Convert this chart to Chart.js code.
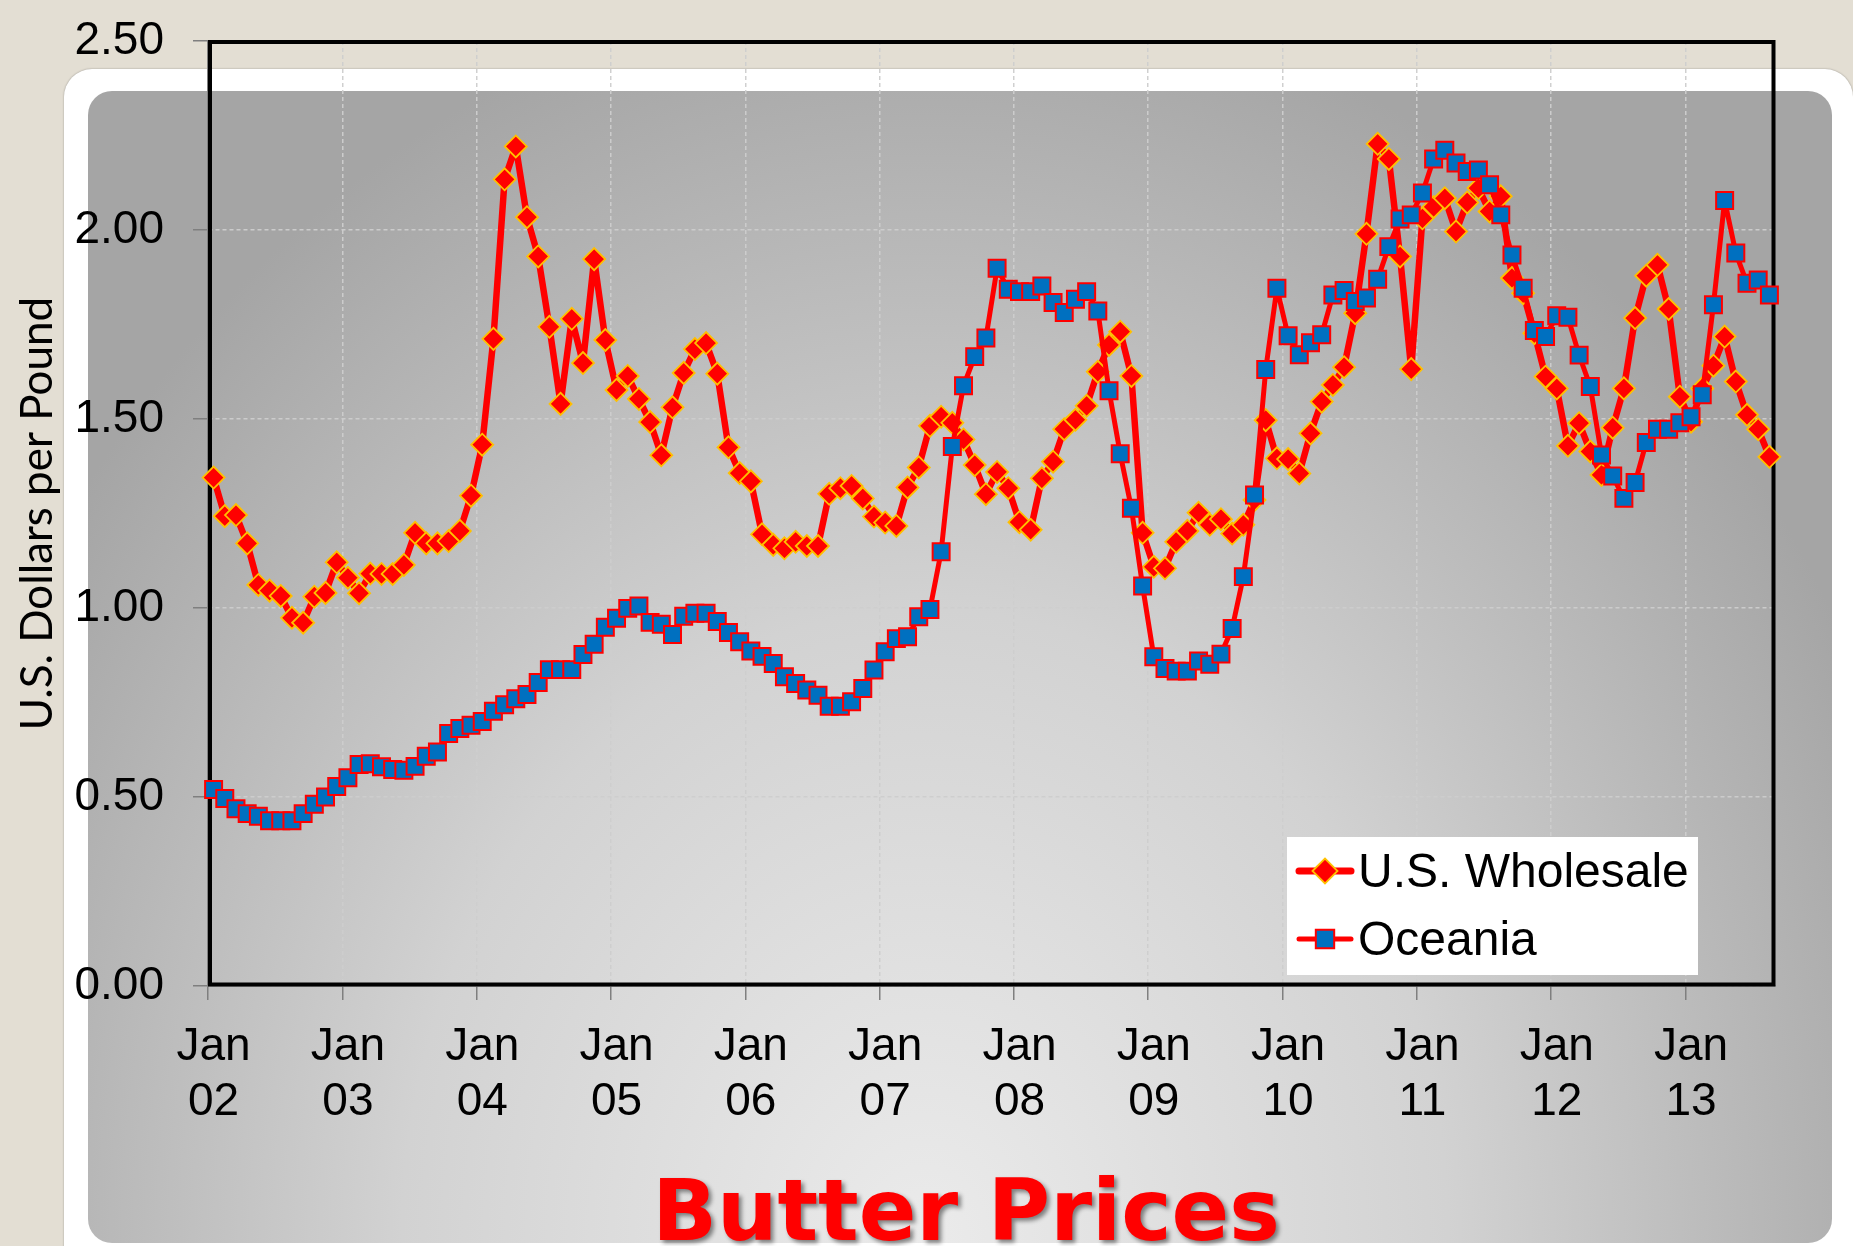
<!DOCTYPE html>
<html>
<head>
<meta charset="utf-8">
<title>Butter Prices</title>
<script src="https://cdn.jsdelivr.net/npm/chart.js@4.4.1/dist/chart.umd.min.js"></script>
<style>
  html, body { margin: 0; padding: 0; }
  body { width: 1853px; height: 1246px; overflow: hidden; background: #e3ded3; position: relative; }
  #card { position: absolute; left: 64px; top: 69px; width: 1789px; height: 1240px; background: #fff;
          border-radius: 28px 28px 0 0; box-shadow: 0 0 2px rgba(0,0,0,0.35); }
  #panel { position: absolute; left: 88px; top: 91px; width: 1744px; height: 1152px; border-radius: 24px;
           background: radial-gradient(ellipse 60% 110% at 48% 100%, #ebebeb 0%, #d2d2d2 50%, #a5a5a5 100%); }
  #chart { position: absolute; left: 0; top: 0; }
</style>
</head>
<body>
<div id="card"></div>
<div id="panel"></div>
<canvas id="chart" width="1853" height="1246"></canvas>
<script>
// Monthly butter prices, Jan 2002 - Aug 2013, US$ per pound
const years = ['02', '03', '04', '05', '06', '07', '08', '09', '10', '11', '12', '13'];
const monthNames = ['Jan', 'Feb', 'Mar', 'Apr', 'May', 'Jun', 'Jul', 'Aug', 'Sep', 'Oct', 'Nov', 'Dec'];

const usWholesale = [
  1.345, 1.243, 1.246, 1.171, 1.061, 1.046, 1.032, 0.974, 0.961, 1.030, 1.040, 1.121,
  1.080, 1.039, 1.091, 1.090, 1.090, 1.114, 1.199, 1.171, 1.171, 1.177, 1.204, 1.297,
  1.432, 1.712, 2.134, 2.221, 2.034, 1.930, 1.744, 1.540, 1.765, 1.648, 1.923, 1.709,
  1.577, 1.614, 1.553, 1.492, 1.404, 1.531, 1.622, 1.685, 1.701, 1.620, 1.425, 1.357,
  1.335, 1.195, 1.167, 1.158, 1.175, 1.164, 1.164, 1.302, 1.317, 1.323, 1.290, 1.242,
  1.226, 1.217, 1.319, 1.372, 1.482, 1.506, 1.490, 1.446, 1.378, 1.301, 1.360, 1.317,
  1.227, 1.207, 1.343, 1.387, 1.473, 1.498, 1.535, 1.625, 1.696, 1.731, 1.614, 1.199,
  1.109, 1.105, 1.175, 1.204, 1.252, 1.220, 1.235, 1.197, 1.220, 1.286, 1.497, 1.396,
  1.394, 1.356, 1.462, 1.546, 1.590, 1.637, 1.780, 1.990, 2.228, 2.188, 1.930, 1.632,
  2.031, 2.061, 2.084, 1.996, 2.073, 2.111, 2.049, 2.089, 1.873, 1.833, 1.727, 1.612,
  1.581, 1.429, 1.489, 1.414, 1.352, 1.477, 1.581, 1.767, 1.879, 1.908, 1.791, 1.559,
  1.493, 1.581, 1.641, 1.718, 1.599, 1.511, 1.473, 1.400
];

const oceania = [
  0.520, 0.496, 0.469, 0.456, 0.449, 0.437, 0.437, 0.437, 0.456, 0.481, 0.500, 0.528,
  0.551, 0.586, 0.588, 0.580, 0.573, 0.571, 0.581, 0.608, 0.619, 0.668, 0.681, 0.690,
  0.700, 0.727, 0.744, 0.760, 0.771, 0.803, 0.837, 0.837, 0.837, 0.877, 0.904, 0.949,
  0.973, 0.999, 1.005, 0.962, 0.957, 0.930, 0.978, 0.986, 0.986, 0.964, 0.935, 0.911,
  0.886, 0.872, 0.853, 0.818, 0.800, 0.783, 0.769, 0.740, 0.740, 0.752, 0.787, 0.836,
  0.884, 0.919, 0.924, 0.977, 0.996, 1.149, 1.427, 1.588, 1.665, 1.714, 1.899, 1.843,
  1.837, 1.837, 1.852, 1.808, 1.782, 1.817, 1.837, 1.786, 1.575, 1.408, 1.264, 1.058,
  0.871, 0.840, 0.833, 0.833, 0.860, 0.851, 0.878, 0.946, 1.083, 1.299, 1.631, 1.846,
  1.720, 1.670, 1.702, 1.723, 1.828, 1.840, 1.811, 1.820, 1.870, 1.956, 2.029, 2.040,
  2.098, 2.188, 2.211, 2.177, 2.155, 2.159, 2.120, 2.040, 1.934, 1.846, 1.734, 1.718,
  1.773, 1.769, 1.669, 1.586, 1.405, 1.349, 1.290, 1.332, 1.438, 1.473, 1.473, 1.490,
  1.506, 1.564, 1.802, 2.078, 1.939, 1.859, 1.868, 1.828
];

const seriesNames = ['U.S. Wholesale', 'Oceania'];
const yAxisTitle = 'U.S. Dollars per Pound';
const chartCaption = 'Butter Prices';

// one category per month: "Jan 02", "Feb 02", ...
const categories = [];
years.forEach(y => monthNames.forEach(m => {
  if (categories.length < usWholesale.length) categories.push(m + ' ' + y);
}));

const RED = '#ff0000';
const GOLD = '#ffc000';
const BLUE = '#0070c0';
const GRID = 'rgba(205,205,205,0.95)';
const TICK = '#7f7f7f';
const NONE = 'rgba(0,0,0,0)';
const SANS = '"Liberation Sans", Arial, sans-serif';

const isJan = i => typeof i === 'number' && i % 12 === 0;

// black frame round the plot area, under the series
const plotFrame = {
  id: 'plotFrame',
  beforeDatasetsDraw(chart) {
    const { ctx, chartArea: a } = chart;
    ctx.save();
    ctx.strokeStyle = '#000';
    ctx.lineWidth = 4;
    ctx.strokeRect(a.left + 2, a.top + 1, a.right - a.left - 3.5, a.bottom - a.top - 2.5);
    ctx.restore();
  }
};

// boxed legend inside the plot, line + marker per series
const boxLegend = {
  id: 'boxLegend',
  afterDatasetsDraw(chart) {
    const { ctx } = chart;
    const rows = [
      { ds: 0, lineY: 871, base: 887, lw: 7, r: 12.5 },
      { ds: 1, lineY: 939, base: 955, lw: 5, r: 13 }
    ];
    ctx.save();
    ctx.fillStyle = '#ffffff';
    ctx.fillRect(1287, 837, 411, 138);
    rows.forEach(row => {
      const ds = chart.data.datasets[row.ds];
      ctx.strokeStyle = ds.borderColor;
      ctx.lineWidth = row.lw;
      ctx.lineCap = 'round';
      ctx.beginPath();
      ctx.moveTo(1299, row.lineY);
      ctx.lineTo(1351, row.lineY);
      ctx.stroke();
      ctx.fillStyle = ds.pointBackgroundColor;
      ctx.strokeStyle = ds.pointBorderColor;
      ctx.lineWidth = ds.pointBorderWidth;
      Chart.helpers.drawPoint(ctx, {
        pointStyle: ds.pointStyle, radius: row.r, rotation: 0, borderWidth: ds.pointBorderWidth
      }, 1325, row.lineY);
      ctx.fillStyle = '#000';
      ctx.font = '48px ' + SANS;
      ctx.textAlign = 'left';
      ctx.textBaseline = 'alphabetic';
      ctx.fillText(ds.label, 1358, row.base);
    });
    ctx.restore();
  }
};

// large red caption under the axis
const caption = {
  id: 'caption',
  afterDraw(chart) {
    const { ctx } = chart;
    ctx.save();
    ctx.font = 'bold 85px "DejaVu Sans", Verdana, sans-serif';
    ctx.fillStyle = RED;
    ctx.textAlign = 'center';
    ctx.textBaseline = 'alphabetic';
    ctx.shadowColor = 'rgba(0,0,0,0.45)';
    ctx.shadowOffsetX = 3;
    ctx.shadowOffsetY = 3;
    ctx.shadowBlur = 4;
    ctx.fillText(chartCaption, 966, 1240);
    ctx.restore();
  }
};

new Chart(document.getElementById('chart'), {
  type: 'line',
  data: {
    labels: categories,
    datasets: [
      {
        label: seriesNames[0],
        data: usWholesale,
        borderColor: RED,
        borderWidth: 6.5,
        borderJoinStyle: 'round',
        borderCapStyle: 'round',
        pointStyle: 'rectRot',
        pointRadius: 11,
        pointBackgroundColor: RED,
        pointBorderColor: GOLD,
        pointBorderWidth: 1.8,
        tension: 0,
        clip: false,
        order: 1
      },
      {
        label: seriesNames[1],
        data: oceania,
        borderColor: RED,
        borderWidth: 5,
        borderJoinStyle: 'round',
        borderCapStyle: 'round',
        pointStyle: 'rect',
        pointRadius: 12,
        pointBackgroundColor: BLUE,
        pointBorderColor: RED,
        pointBorderWidth: 2,
        tension: 0,
        clip: false,
        order: 0
      }
    ]
  },
  options: {
    responsive: false,
    animation: false,
    devicePixelRatio: 1,
    layout: { padding: { left: 0, top: 41, right: 78, bottom: 0 } },
    plugins: {
      legend: { display: false },
      tooltip: { enabled: false },
      title: { display: false }
    },
    scales: {
      x: {
        type: 'category',
        offset: true,
        grid: {
          offset: true,
          lineWidth: 1.5,
          tickWidth: 1.5,
          tickLength: 14,
          tickBorderDash: [],
          color: c => isJan(c.index) ? GRID : NONE,
          tickColor: c => isJan(c.index) ? TICK : NONE
        },
        border: { display: true, color: '#808080', width: 1.5, dash: [4, 3] },
        ticks: {
          autoSkip: false,
          maxRotation: 0,
          minRotation: 0,
          padding: 20,
          color: '#000',
          font: { family: SANS, size: 46, lineHeight: 1.2 },
          callback: (v, i) => i % 12 === 0 ? categories[i].split(' ') : ''
        },
        afterFit: s => { s.height = 260; s.paddingLeft = 0; s.paddingRight = 0; }
      },
      y: {
        min: 0,
        max: 2.5,
        grid: {
          lineWidth: 1.5,
          tickWidth: 1.5,
          tickLength: 15,
          tickBorderDash: [],
          color: GRID,
          tickColor: TICK
        },
        border: { display: true, color: '#808080', width: 1.5, dash: [4, 3] },
        ticks: {
          stepSize: 0.5,
          padding: 29,
          color: '#000',
          font: { family: SANS, size: 46 },
          callback: v => Number(v).toFixed(2)
        },
        title: {
          display: true,
          text: yAxisTitle,
          color: '#000',
          font: { family: 'Lato, "Open Sans", sans-serif', size: 44 },
          padding: { top: 11, bottom: 0 }
        },
        afterFit: s => { s.width = 208; s.paddingTop = 0; s.paddingBottom = 0; }
      }
    }
  },
  plugins: [plotFrame, boxLegend, caption]
});
</script>
</body>
</html>
